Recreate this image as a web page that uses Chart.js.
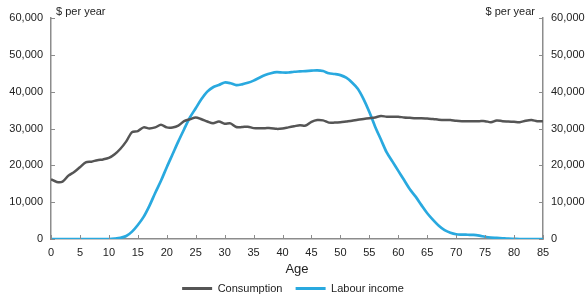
<!DOCTYPE html>
<html>
<head>
<meta charset="utf-8">
<script src="https://cdn.jsdelivr.net/npm/chart.js@4.4.1/dist/chart.umd.min.js"></script>
<style>
html,body{margin:0;padding:0;background:#fff;}
#wrap{width:586px;height:302px;position:relative;}
</style>
</head>
<body>
<div id="wrap"><canvas id="c" width="586" height="302"></canvas></div>
<script>
const ages = [];
for (let a = 0; a <= 85; a++) ages.push(a);

const consumption = [16200,15500,15600,17200,18200,19500,20800,21000,21400,21600,
  22000,23000,24500,26500,29000,29300,30300,30000,30300,31000,
  30300,30300,30800,32000,32500,33000,32500,31900,31400,31900,
  31300,31400,30400,30400,30500,30100,30100,30100,30100,29900,
  30000,30300,30600,30900,30800,31800,32300,32200,31600,31600,
  31700,31900,32100,32400,32600,32800,33000,33400,33200,33200,
  33200,33000,32900,32800,32800,32700,32600,32400,32300,32300,
  32100,32000,32000,32000,32000,32000,31700,32200,32000,31900,
  31800,31700,32100,32300,32000,32000];

const labourIncome = [0,0,0,0,0,0,0,0,0,0,
  0,100,300,800,2000,3800,6000,9000,12500,15800,
  19500,23000,26500,29800,33000,35500,38000,40000,41200,41800,
  42500,42300,41800,42000,42400,43000,43800,44500,45000,45300,
  45200,45200,45400,45500,45600,45700,45800,45600,45000,44800,
  44500,43800,42500,40800,38000,34500,30500,27000,23500,21000,
  18500,16000,13500,11500,9200,7000,5200,3600,2400,1700,
  1300,1200,1150,1100,900,600,400,300,200,100,
  50,0,0,0,0,0];

const seriesNames = ['Consumption', 'Labour income'];
const xTicks = [0,5,10,15,20,25,30,35,40,45,50,55,60,65,70,75,80,85];
const yTicks = [0,10000,20000,30000,40000,50000,60000];
const unitLabel = '$ per year';
const xTitle = 'Age';

const FONT = 'Liberation Sans, Arial, sans-serif';
const AXIS = '#8c8c8c';
const GREY = '#555555';
const BLUE = '#29a9df';

const fmt = v => v.toLocaleString('en-US');

const insideTicks = {
  id: 'insideTicks',
  afterDraw(chart) {
    const ctx = chart.ctx, a = chart.chartArea;
    const x = chart.scales.x, yl = chart.scales.y, yr = chart.scales.y2;
    ctx.save();
    ctx.strokeStyle = AXIS;
    ctx.lineWidth = 1;
    ctx.beginPath();
    xTicks.forEach(t => { const px = Math.round(x.getPixelForValue(t)) + 0.5; ctx.moveTo(px, a.bottom); ctx.lineTo(px, a.bottom - 4); });
    yTicks.forEach(t => {
      const py = Math.round(yl.getPixelForValue(t)) + 0.5;
      ctx.moveTo(a.left, py); ctx.lineTo(a.left + 4, py);
      const py2 = Math.round(yr.getPixelForValue(t)) + 0.5;
      ctx.moveTo(a.right, py2); ctx.lineTo(a.right - 4, py2);
    });
    ctx.stroke();
    ctx.fillStyle = '#222';
    ctx.font = '11px ' + FONT;
    ctx.textBaseline = 'middle';
    ctx.textAlign = 'left';
    ctx.fillText(unitLabel, a.left + 5, a.top - 6);
    ctx.textAlign = 'right';
    ctx.fillText(unitLabel, a.right - 8, a.top - 6);
    ctx.restore();
  }
};

new Chart(document.getElementById('c'), {
  type: 'line',
  data: {
    datasets: [
      { label: seriesNames[0], data: ages.map((a,i)=>({x:a,y:consumption[i]})), borderColor: GREY, backgroundColor: GREY, borderWidth: 2.5, pointRadius: 0, tension: 0.3, yAxisID: 'y' },
      { label: seriesNames[1], data: ages.map((a,i)=>({x:a,y:labourIncome[i]})), borderColor: BLUE, backgroundColor: BLUE, borderWidth: 2.7, pointRadius: 0, tension: 0.3, yAxisID: 'y' }
    ]
  },
  options: {
    responsive: false,
    animation: false,
    devicePixelRatio: 1,
    layout: { padding: { top: 18, left: 0, right: 0, bottom: -2 } },
    plugins: {
      tooltip: { enabled: false },
      legend: {
        position: 'bottom',
        labels: {
          font: { family: FONT, size: 11 },
          color: '#222',
          boxWidth: 30,
          boxHeight: 3,
          padding: 4,
          generateLabels: chart => {
            const items = Chart.defaults.plugins.legend.labels.generateLabels(chart);
            items.forEach((it, i) => { it.lineWidth = 0; if (i < items.length - 1) it.text = it.text + '   '; });
            return items;
          }
        }
      }
    },
    scales: {
      x: {
        type: 'linear', min: 0, max: 85,
        afterBuildTicks: s => { s.ticks = xTicks.map(v => ({ value: v })); },
        grid: { display: false, drawTicks: false },
        border: { display: true, color: AXIS, width: 1.5 },
        ticks: { color: '#222', font: { family: FONT, size: 11 }, padding: 7, maxRotation: 0, autoSkip: false },
        title: { display: true, text: xTitle, color: '#222', font: { family: FONT, size: 13 }, padding: { top: 0, bottom: 2 } },
        afterFit: s => { s.height = 40; }
      },
      y: {
        position: 'left', min: 0, max: 60000,
        afterBuildTicks: s => { s.ticks = yTicks.map(v => ({ value: v })); },
        grid: { display: false, drawTicks: false },
        border: { display: true, color: AXIS, width: 1.5 },
        ticks: { color: '#222', font: { family: FONT, size: 11 }, padding: 8, callback: v => fmt(v) },
        afterFit: s => { s.width = 51; }
      },
      y2: {
        position: 'right', min: 0, max: 60000,
        afterBuildTicks: s => { s.ticks = yTicks.map(v => ({ value: v })); },
        grid: { display: false, drawTicks: false },
        border: { display: true, color: AXIS, width: 1.5 },
        ticks: { color: '#222', font: { family: FONT, size: 11 }, padding: 8, callback: v => fmt(v) },
        afterFit: s => { s.width = 43; }
      }
    }
  },
  plugins: [insideTicks]
});
</script>
</body>
</html>
